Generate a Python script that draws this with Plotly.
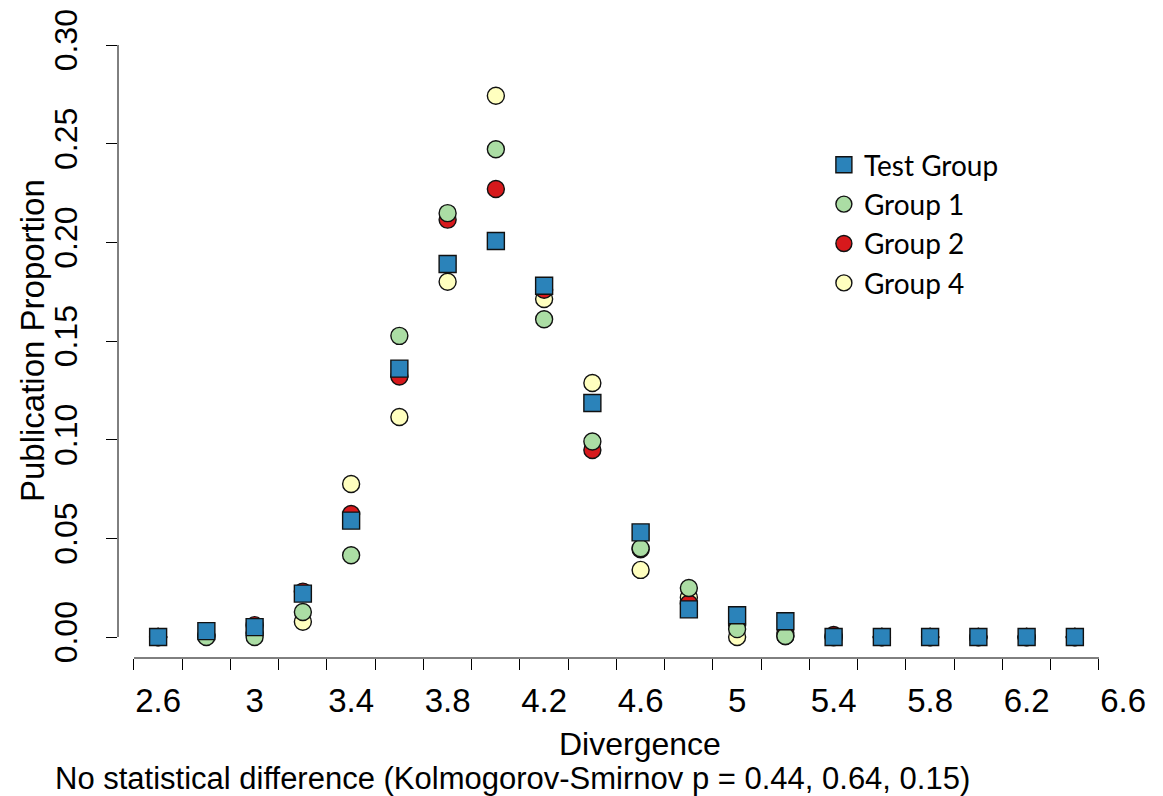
import plotly.graph_objects as go

# ---- data ----
divergence = [2.6, 2.8, 3.0, 3.2, 3.4, 3.6, 3.8, 4.0, 4.2, 4.4,
              4.6, 4.8, 5.0, 5.2, 5.4, 5.6, 5.8, 6.0, 6.2, 6.4]
test_group = [0.000, 0.003, 0.005, 0.022, 0.059, 0.136, 0.189, 0.2007, 0.178, 0.1186,
              0.053, 0.014, 0.011, 0.008, 0.000, 0.000, 0.000, 0.000, 0.000, 0.000]
group_1 = [0.000, 0.000, 0.000, 0.0127, 0.0414, 0.1526, 0.2148, 0.2472, 0.161, 0.0991,
           0.045, 0.0248, 0.004, 0.0005, 0.000, 0.000, 0.000, 0.000, 0.000, 0.000]
group_2 = [0.000, 0.001, 0.006, 0.023, 0.0623, 0.132, 0.2115, 0.227, 0.176, 0.0948,
           0.0445, 0.017, 0.006, 0.002, 0.001, 0.000, 0.000, 0.000, 0.000, 0.000]
group_4 = [0.000, 0.001, 0.002, 0.0077, 0.0775, 0.1115, 0.180, 0.2743, 0.1713, 0.1287,
           0.034, 0.020, 0.000, 0.0005, 0.000, 0.000, 0.000, 0.000, 0.000, 0.000]

x_tick_edges = [2.5, 2.7, 2.9, 3.1, 3.3, 3.5, 3.7, 3.9, 4.1, 4.3, 4.5,
                4.7, 4.9, 5.1, 5.3, 5.5, 5.7, 5.9, 6.1, 6.3, 6.5]
x_label_vals = [2.6, 3.0, 3.4, 3.8, 4.2, 4.6, 5.0, 5.4, 5.8, 6.2, 6.6]
x_label_text = ["2.6", "3", "3.4", "3.8", "4.2", "4.6", "5", "5.4", "5.8", "6.2", "6.6"]
y_tick_vals = [0.00, 0.05, 0.10, 0.15, 0.20, 0.25, 0.30]

x_title = "Divergence"
y_title = "Publication Proportion"
caption = "No statistical difference (Kolmogorov-Smirnov p = 0.44, 0.64, 0.15)"

# ---- styling ----
AX_FONT = "Liberation Sans, Arial, sans-serif"
LEG_FONT = "Lato, Carlito, sans-serif"
X_RANGE = [2.4337, 6.699]
Y_RANGE = [-0.01064, 0.30]

series = [
    ("Group 4", group_4, "#ffffbf", "circle"),
    ("Group 2", group_2, "#d7191c", "circle"),
    ("Group 1", group_1, "#abdda4", "circle"),
    ("Test Group", test_group, "#2b83ba", "square"),
]

fig = go.Figure()
for name, vals, color, sym in series:
    fig.add_trace(go.Scatter(
        x=divergence, y=vals, mode="markers", name=name,
        marker=dict(symbol=sym, size=17, color=color,
                    line=dict(color="#111111", width=1.4)),
        cliponaxis=False,
    ))

fig.update_layout(
    width=1163, height=796,
    paper_bgcolor="white", plot_bgcolor="white",
    margin=dict(l=118, r=16, t=45, b=138, autoexpand=False),
    showlegend=True,
    legend=dict(
        x=0.686, y=0.845, xanchor="left", yanchor="top",
        traceorder="reversed",
        font=dict(family=LEG_FONT, size=28, color="black"),
        bgcolor="rgba(0,0,0,0)",
        tracegroupgap=0,
    ),
    xaxis=dict(
        range=X_RANGE, tickmode="array", tickvals=x_tick_edges,
        ticktext=["" for _ in x_tick_edges], automargin=False,
        ticks="outside", ticklen=11, tickwidth=1, tickcolor="black",
        showline=False, showgrid=False, zeroline=False,
    ),
    xaxis2=dict(
        range=X_RANGE, overlaying="x", anchor="y", side="bottom",
        tickmode="array", tickvals=x_label_vals, ticktext=x_label_text,
        ticks="", showline=False, showgrid=False, zeroline=False,
        ticklabelstandoff=20, automargin=False,
        tickfont=dict(family=AX_FONT, size=33, color="black"),
    ),
    yaxis=dict(
        range=Y_RANGE, tickmode="array", tickvals=y_tick_vals,
        tickformat=".2f", tickangle=-90, automargin=False,
        ticks="outside", ticklen=11, tickwidth=1, tickcolor="black",
        showline=False, showgrid=False, zeroline=False,
        ticklabelstandoff=16,
        tickfont=dict(family=AX_FONT, size=32, color="black"),
    ),
)

# dummy trace to make xaxis2 render its labels
fig.add_trace(go.Scatter(x=[x_label_vals[0]], y=[None], xaxis="x2", yaxis="y",
                         showlegend=False, hoverinfo="skip"))

# R-style detached axis lines spanning the tick ranges
fig.add_shape(type="line", xref="x", yref="paper",
              x0=min(x_tick_edges), x1=max(x_tick_edges), y0=0, y1=0,
              line=dict(color="black", width=1))
fig.add_shape(type="line", xref="paper", yref="y",
              x0=0, x1=0, y0=min(y_tick_vals), y1=max(y_tick_vals),
              line=dict(color="black", width=1))

fig.add_annotation(text=x_title, xref="paper", yref="paper", x=0.507, y=0,
                   xanchor="center", yanchor="middle", yshift=-86, showarrow=False,
                   font=dict(family=AX_FONT, size=32, color="black"))
fig.add_annotation(text=caption, xref="paper", yref="paper", x=0.383, y=0,
                   xanchor="center", yanchor="middle", yshift=-120, showarrow=False,
                   font=dict(family=AX_FONT, size=31, color="black"))
fig.add_annotation(text=y_title, xref="paper", yref="paper", x=0, y=0.517,
                   xanchor="center", yanchor="middle", xshift=-86, textangle=-90,
                   showarrow=False,
                   font=dict(family=AX_FONT, size=33, color="black"))

fig.write_html("out.html",
               config={"displayModeBar": False},
               post_script="document.body.style.margin='0px';"
                           "document.body.style.overflow='hidden';")
